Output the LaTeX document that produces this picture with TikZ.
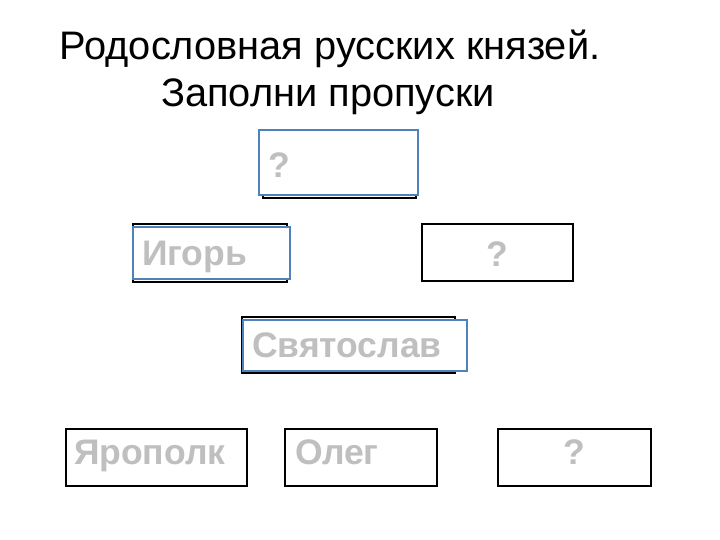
\documentclass[tikz,border=0pt]{standalone}
\usepackage{fontspec}
\setmainfont{Liberation Sans}

\definecolor{boxblue}{RGB}{79,129,189}
\definecolor{namegrey}{RGB}{191,191,191}

\tikzset{
	shadowbox/.style={draw=black, line width=2pt, fill=white, inner sep=0pt},
	princebox/.style={draw=#1, line width=1.6pt, fill=white, inner xsep=9pt, inner ysep=0pt,
		font=\fontsize{35.5}{35.5}\selectfont\bfseries, text=namegrey, text height=26pt, text depth=2pt},
	princebox/.default=black,
	lowrow/.style={text depth=13pt},
	titleline/.style={font=\fontsize{39.8}{39.8}\selectfont, anchor=base}
}

\begin{document}
\begin{tikzpicture}[x=1pt, y=-1pt]
	\useasboundingbox[fill=white] (0, 0) rectangle (720, 540);

	\node[titleline] (title1) at (330, 60)  {Родословная русских князей.};
	\node[titleline] (title2) at (328, 107) {Заполни пропуски};

	% first generation
	\node[shadowbox, minimum width=153pt, minimum height=65pt] (rurikback) at (339.5, 165.5) {};
	\node[princebox=boxblue, text height=31pt, text depth=0pt, minimum width=159pt, minimum height=65pt, text width=141pt, align=left] (rurik) at (338.5, 162.5) {?};

	% second generation
	\node[shadowbox, minimum width=154pt, minimum height=58pt] (igorback) at (210, 253) {};
	\node[princebox=boxblue, minimum width=157pt, minimum height=52pt, text width=139pt, align=left] (igor) at (211.5, 253) {Игорь};
	\node[princebox, text height=31pt, text depth=4pt, minimum width=151pt, minimum height=57pt, text width=133pt, align=center] (olga) at (497.5, 252.5) {?};

	% third generation
	\node[shadowbox, minimum width=213pt, minimum height=56pt] (svyatoslavback) at (348.5, 345) {};
	\node[princebox=boxblue, minimum width=224pt, minimum height=51pt, text width=206pt, align=left] (svyatoslav) at (355, 345.5) {Святослав};

	% fourth generation
	\node[princebox, lowrow, minimum width=181pt, minimum height=57pt, text width=165pt, inner xsep=8pt, align=left] (yaropolk) at (156.5, 457.5) {Ярополк};
	\node[princebox, lowrow, minimum width=152pt, minimum height=57pt, text width=132pt, inner xsep=10pt, align=left] (oleg) at (361, 457.5) {Олег};
	\node[princebox, lowrow, minimum width=153pt, minimum height=57pt, text width=135pt, align=center] (vladimir) at (574.5, 457.5) {?};
\end{tikzpicture}
\end{document}
